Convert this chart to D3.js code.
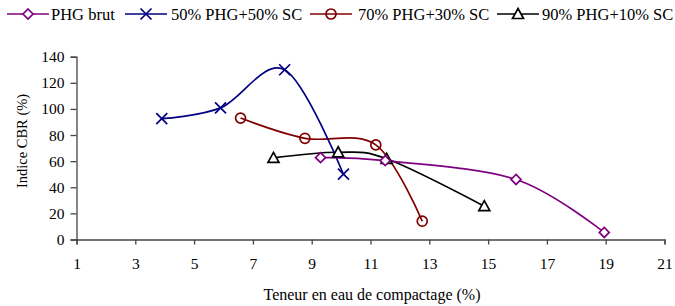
<!DOCTYPE html>
<html>
<head>
<meta charset="utf-8">
<script src="https://cdn.jsdelivr.net/npm/d3@7"></script>
<style>
  body { margin: 0; background: #fff; }
  text { font-family: "Liberation Serif", "Times New Roman", serif; }
</style>
</head>
<body>
<div id="chart"></div>
<script>
// Data
const seriesNames = ["PHG brut", "50% PHG+50% SC", "70% PHG+30% SC", "90% PHG+10% SC"];
const phgBrutX = [9.3, 11.5, 15.95, 18.95];
const phgBrutY = [62.7, 60.4, 46, 5.4];
const phg50X = [3.9, 5.9, 8.08, 10.08];
const phg50Y = [92.5, 100.8, 130, 50];
const phg70X = [6.58, 8.77, 11.18, 12.76];
const phg70Y = [93, 77.5, 72.5, 14];
const phg90X = [7.7, 9.9, 11.55, 14.87];
const phg90Y = [62.5, 66.8, 61.8, 25.5];
const xTicks = [1, 3, 5, 7, 9, 11, 13, 15, 17, 19, 21];
const yTicks = [0, 20, 40, 60, 80, 100, 120, 140];

const colors = ["#800080", "#000080", "#800000", "#000000"];
const symbols = ["diamond", "cross", "circle", "triangle"];

const W = 675, H = 306;
const margin = { top: 56.7, right: 10.5, bottom: 66.5, left: 76.5 };
const width = W - margin.left - margin.right;
const height = H - margin.top - margin.bottom;

const svg = d3.select("#chart").append("svg")
    .attr("width", W)
    .attr("height", H);

const g = svg.append("g")
    .attr("transform", `translate(${margin.left},${margin.top})`);

const x = d3.scaleLinear().domain([1, 21]).range([0, width]);
const y = d3.scaleLinear().domain([0, 140]).range([height, 0]);

// axes
const xAxis = g.append("g")
    .attr("transform", `translate(0,${height})`)
    .call(d3.axisBottom(x).tickValues(xTicks).tickSize(5).tickPadding(13));
const yAxis = g.append("g")
    .call(d3.axisLeft(y).tickValues(yTicks).tickSize(6).tickPadding(6));

[xAxis, yAxis].forEach(a => {
    a.select(".domain").attr("stroke", "#444").attr("stroke-width", 1.3);
    a.selectAll(".tick line").attr("stroke", "#444").attr("stroke-width", 1.3);
    a.selectAll("text").attr("font-size", 15.5).attr("fill", "#000")
        .attr("font-family", "Liberation Serif");
});

// axis titles
svg.append("text")
    .attr("x", 372).attr("y", 300)
    .attr("text-anchor", "middle")
    .attr("font-size", 16)
    .text("Teneur en eau de compactage (%)");

svg.append("text")
    .attr("transform", "translate(27,141) rotate(-90)")
    .attr("text-anchor", "middle")
    .attr("font-size", 14.5)
    .text("Indice CBR (%)");

// marker drawing
function drawMarker(sel, type, color) {
    if (type === "diamond") {
        sel.append("path").attr("d", "M0,-5L5,0L0,5L-5,0Z")
            .attr("fill", "#fff").attr("stroke", color).attr("stroke-width", 1.7);
    } else if (type === "cross") {
        sel.append("path").attr("d", "M-5.5,-5.5L5.5,5.5M-5.5,5.5L5.5,-5.5")
            .attr("fill", "none").attr("stroke", color).attr("stroke-width", 1.7);
    } else if (type === "circle") {
        sel.append("circle").attr("r", 5)
            .attr("fill", "none").attr("stroke", color).attr("stroke-width", 1.7);
    } else if (type === "triangle") {
        sel.append("path").attr("d", "M0,-5.5L5.5,4.5L-5.5,4.5Z")
            .attr("fill", "#fff").attr("stroke", color).attr("stroke-width", 1.7);
    }
}

const allSeries = [
    { xs: phgBrutX, ys: phgBrutY },
    { xs: phg50X, ys: phg50Y },
    { xs: phg70X, ys: phg70Y },
    { xs: phg90X, ys: phg90Y }
];

const line = d3.line()
    .x(d => x(d[0]))
    .y(d => y(d[1]))
    .curve(d3.curveCatmullRom.alpha(0));

// draw order: lines, then markers
const order = [3, 2, 1, 0];
order.forEach(i => {
    const pts = allSeries[i].xs.map((v, k) => [v, allSeries[i].ys[k]]);
    g.append("path")
        .datum(pts)
        .attr("d", line)
        .attr("fill", "none")
        .attr("stroke", colors[i])
        .attr("stroke-width", 1.7);
});
order.forEach(i => {
    const pts = allSeries[i].xs.map((v, k) => [v, allSeries[i].ys[k]]);
    pts.forEach(p => {
        const m = g.append("g").attr("transform", `translate(${x(p[0])},${y(p[1])})`);
        drawMarker(m, symbols[i], colors[i]);
    });
});

// legend
const legendLineX = [7, 125, 310, 497];
const legendTextX = [51, 171, 358, 542];
seriesNames.forEach((name, i) => {
    const lg = svg.append("g").attr("transform", "translate(0,14)");
    lg.append("line").attr("x1", legendLineX[i]).attr("x2", legendLineX[i] + 42)
        .attr("y1", 0).attr("y2", 0)
        .attr("stroke", colors[i]).attr("stroke-width", 1.7);
    const m = lg.append("g").attr("transform", `translate(${legendLineX[i] + 21},0)`);
    drawMarker(m, symbols[i], colors[i]);
    lg.append("text").attr("x", legendTextX[i]).attr("y", 6)
        .attr("font-size", 16.5).text(name);
});
</script>
</body>
</html>
